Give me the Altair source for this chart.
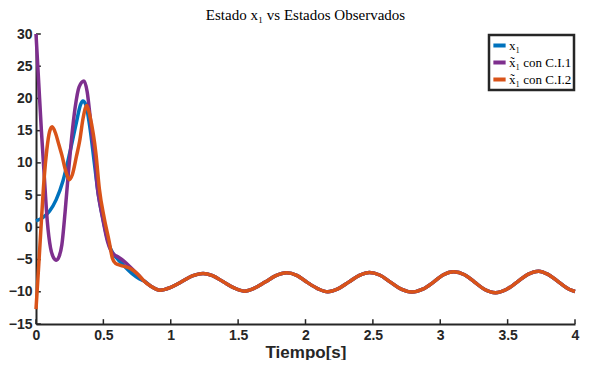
import altair as alt
import pandas as pd

# Common steady-state part (all three curves coincide)
t_tail = [0.80, 0.85, 0.92, 1.00, 1.08, 1.16, 1.24, 1.31, 1.39, 1.47, 1.545, 1.62, 1.70, 1.78, 1.86,
          1.935, 2.01, 2.09, 2.165, 2.24, 2.32, 2.40, 2.475, 2.55, 2.63, 2.71, 2.79, 2.87, 2.95,
          3.02, 3.10, 3.18, 3.255, 3.33, 3.41, 3.49, 3.57, 3.65, 3.73, 3.80, 3.88, 3.96, 4.00]
v_tail = [-8.3, -9.1, -9.75, -9.3, -8.45, -7.55, -7.15, -7.5, -8.45, -9.4, -9.9, -9.45, -8.5, -7.5, -7.05,
          -7.45, -8.5, -9.5, -10.0, -9.55, -8.5, -7.45, -7.0, -7.4, -8.5, -9.6, -10.05, -9.6, -8.5,
          -7.4, -6.9, -7.35, -8.5, -9.65, -10.15, -9.65, -8.5, -7.3, -6.8, -7.3, -8.5, -9.65, -9.95]

# Transient parts
t_x1 = [0.0, 0.05, 0.10, 0.15, 0.20, 0.25, 0.30, 0.33, 0.348, 0.37, 0.40, 0.43, 0.46, 0.50, 0.53,
        0.555, 0.60, 0.65, 0.72, 0.76]
v_x1 = [1.0, 1.5, 2.5, 4.3, 7.2, 11.5, 16.3, 19.0, 19.6, 19.0, 15.5, 10.5, 5.5, 1.0, -1.8,
        -3.4, -4.8, -5.9, -7.3, -7.9]

t_ci1 = [0.0, 0.02, 0.04, 0.06, 0.084, 0.108, 0.13, 0.151, 0.17, 0.192, 0.216, 0.24, 0.265, 0.29,
         0.32, 0.356, 0.38, 0.40, 0.42, 0.435, 0.454, 0.475, 0.495, 0.531, 0.555, 0.578, 0.61, 0.65,
         0.72, 0.76]
v_ci1 = [30.0, 22.5, 15.0, 8.4, 0.9, -3.2, -4.7, -5.1, -4.6, -2.7, 2.4, 8.4, 14.0, 18.5,
         21.8, 22.7, 21.0, 17.5, 13.5, 11.4, 6.4, 3.5, 1.36, -2.2, -3.6, -4.2, -4.6, -5.2,
         -6.6, -7.4]

t_ci2 = [0.0, 0.02, 0.04, 0.06, 0.08, 0.10, 0.12, 0.145, 0.17, 0.192, 0.22, 0.247, 0.27, 0.30,
         0.324, 0.35, 0.377, 0.40, 0.425, 0.445, 0.47, 0.507, 0.543, 0.567, 0.59, 0.627, 0.70,
         0.74, 0.783]
v_ci2 = [-12.7, -6.0, 1.0, 7.5, 12.0, 14.8, 15.6, 14.6, 12.8, 11.2, 8.8, 7.4, 8.2, 11.0,
         13.4, 17.0, 18.9, 17.3, 14.5, 11.4, 6.0, 1.36, -2.2, -4.8, -5.6, -5.9, -6.4,
         -7.0, -7.9]

series_names = ["x₁", "x̃₁ con C.I.1", "x̃₁ con C.I.2"]
series_colors = ["#0072BD", "#7E2F8E", "#D95319"]
x_ticks = [0, 0.5, 1, 1.5, 2, 2.5, 3, 3.5, 4]
y_ticks = [-15, -10, -5, 0, 5, 10, 15, 20, 25, 30]

rows = []
for name, ts, vs in zip(series_names, [t_x1, t_ci1, t_ci2], [v_x1, v_ci1, v_ci2]):
    for t, v in zip(ts + t_tail, vs + v_tail):
        rows.append({"t": t, "v": v, "serie": name})
df = pd.DataFrame(rows)

AX = "#262626"

xscale = alt.Scale(domain=[0, 4], nice=False, zero=False)
yscale = alt.Scale(domain=[-15, 30], nice=False, zero=False)

x_axis = alt.Axis(values=x_ticks, format="~g", tickSize=0, domainColor=AX, domainWidth=2,
                  labelFont="Liberation Sans", labelFontWeight="bold", labelFontSize=14,
                  labelColor=AX, labelPadding=4, labelFlush=False, labelOverlap=False,
                  title="Tiempo[s]", titleFont="Liberation Sans", titleFontWeight="bold",
                  titleFontSize=17, titleColor=AX, titlePadding=2, grid=False)
y_axis = alt.Axis(values=y_ticks, tickSize=0, domainColor=AX, domainWidth=2,
                  labelFont="Liberation Sans", labelFontWeight="bold", labelFontSize=14,
                  labelColor=AX, labelPadding=4, labelFlush=False, labelOverlap=False,
                  title=None, grid=False)

X = alt.X("t:Q", scale=xscale, axis=x_axis)
Y = alt.Y("v:Q", scale=yscale, axis=y_axis)

color = alt.Color("serie:N", scale=alt.Scale(domain=series_names, range=series_colors),
                  legend=alt.Legend(title=None, orient="top-right", offset=1,
                                    symbolType="stroke", symbolStrokeWidth=4, symbolSize=150,
                                    labelFont="Liberation Serif", labelFontSize=13,
                                    labelColor="black", labelOffset=1, rowPadding=0,
                                    padding=2))

base = alt.Chart(df)
layers = []
for name in series_names:
    layers.append(
        base.transform_filter(alt.datum.serie == name)
        .mark_line(strokeWidth=3.5, interpolate="monotone")
        .encode(x=X, y=Y, color=color)
    )

xt = alt.Chart(pd.DataFrame({"t": x_ticks})).mark_rule(color=AX, strokeWidth=1.5).encode(
    x=X, y=alt.Y(datum=-15, scale=yscale, axis=y_axis), y2=alt.datum(-14.25))
yt = alt.Chart(pd.DataFrame({"v": y_ticks})).mark_rule(color=AX, strokeWidth=1.5).encode(
    y=Y, x=alt.X(datum=0, scale=xscale, axis=x_axis), x2=alt.datum(0.036))

chart = alt.layer(xt, yt, *layers).properties(
    width=574, height=352, padding=0,
    autosize=alt.AutoSizeParams(type="fit", contains="padding"),
    title=alt.TitleParams("Estado x₁ vs Estados Observados", font="Liberation Serif",
                          fontSize=15, fontWeight="normal", color="black", anchor="middle",
                          frame="group", offset=4),
    background="white",
).configure_view(stroke=None).configure_legend(strokeColor=AX, strokeWidth=2.5)

chart.save("out.html", embed_options={"renderer": "svg", "actions": False})
